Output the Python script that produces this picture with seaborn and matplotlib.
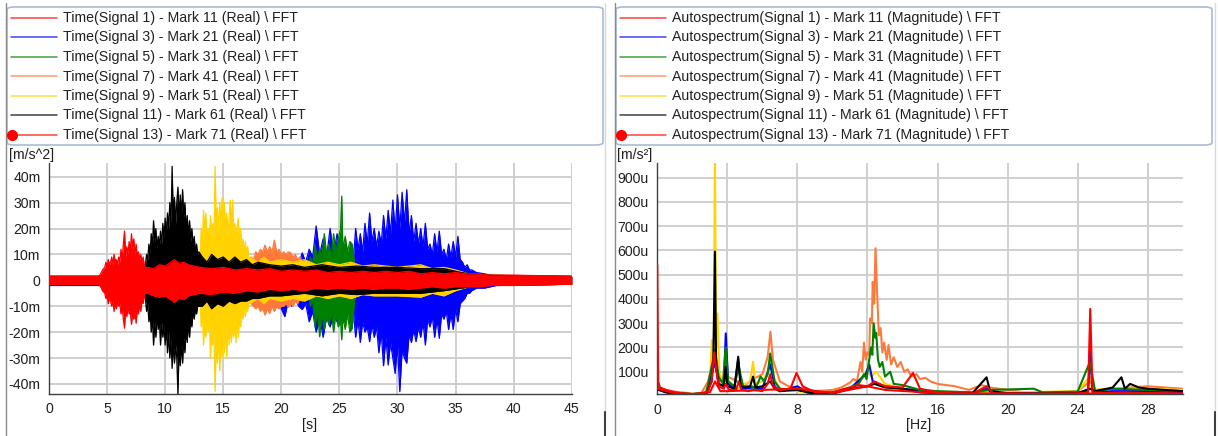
import numpy as np
import pandas as pd
import matplotlib
matplotlib.use("Agg")
import matplotlib.pyplot as plt
import seaborn as sns
from matplotlib.lines import Line2D
from matplotlib.patches import FancyBboxPatch
from matplotlib.ticker import FuncFormatter, FixedLocator

sns.set_style("white")
plt.rcParams['font.family'] = ['Liberation Sans', 'DejaVu Sans']

# ---------------- legend labels & colours ----------------
signals = ["Signal 1", "Signal 3", "Signal 5", "Signal 7", "Signal 9", "Signal 11", "Signal 13"]
marks = ["Mark 11", "Mark 21", "Mark 31", "Mark 41", "Mark 51", "Mark 61", "Mark 71"]
colors = ["#FF0000", "#0000FF", "#008000", "#FF7A3A", "#FFD200", "#000000", "#FF0000"]

# ---------------- time data: envelopes (upper / lower), milli m/s^2 ----------------
T1 = [0, 4.3, 5, 6, 7, 8, 8.5, 9, 9.5, 10, 10.5, 10.8, 11.2, 11.6, 12, 12.5,
      13, 14, 15, 16, 17, 18, 19, 20, 21, 22, 23, 24, 25, 26, 27, 28, 29, 30, 31, 32, 33, 34, 35, 36, 37, 38,
      40, 42, 45]
U1 = [1.5, 1.5, 3, 4, 4, 4.5, 5, 4.5, 6, 5.5, 7, 8, 6.5, 7, 6, 5.5,
      5, 4.5, 5, 4, 4.5, 4, 4.5, 3.5, 4, 3.5, 4, 3, 3.5, 3, 3.5, 3, 3.5, 3, 3.5, 2.5, 3, 2.5, 3, 2.5, 2.5, 2,
      2, 1.8, 1.5]
L1 = [-1.5, -1.5, -3, -4, -4, -5, -5, -6, -6.5, -6, -7.5, -8.5, -7, -7.5, -6, -5.5,
      -5, -5.5, -4.5, -5, -4, -4.5, -3.5, -4, -3.5, -4, -3, -3.5, -3, -3.5, -3, -3.5, -3, -3, -3.5, -3, -2.5, -3,
      -2.5, -2.5, -2.5, -2, -2, -1.8, -1.5]

T3 = [0, 4.5, 5,
      17.3, 17.6, 17.9, 18.2, 18.5, 18.8, 19.1, 19.4, 19.7, 20.0, 20.3, 20.6, 20.9, 21.2, 21.5, 21.8, 22.1, 22.4,
      22.7, 23.0, 23.3, 23.6, 23.9, 24.2, 24.5, 24.8, 25.1, 25.4, 25.7, 26.0,
      26.2, 26.4, 26.6, 26.8, 27.0, 27.2, 27.4, 27.6, 27.8, 28.0, 28.2, 28.4, 28.6, 28.8, 29.0, 29.2, 29.4, 29.6,
      29.8, 30.0, 30.2, 30.4, 30.6, 30.8, 31.0, 31.2, 31.4, 31.6, 31.8, 32.0, 32.2, 32.4, 32.6, 32.8, 33.0, 33.2,
      33.4, 33.6, 33.8, 34.0, 34.2, 34.4, 34.6, 34.8, 35.0, 35.2, 35.4, 35.6, 35.8, 36.0, 36.2, 36.4,
      36.8, 37.5, 38.5, 45]
U3 = [1.5, 1.5, 1.5,
      4, 7, 5, 10, 6, 8, 5, 9, 6, 8, 5, 10, 6, 9, 6, 10.6, 7, 12,
      9, 21, 10, 16, 9, 20, 10, 18, 9, 14, 8, 12,
      8, 20, 12, 18, 11, 22, 14, 26, 15, 20, 13, 19, 14, 25, 16, 27, 18, 31,
      19, 33, 20, 34, 22, 35, 18, 25, 15, 22, 14, 20, 13, 22, 12, 14, 10, 18,
      11, 19, 10, 12, 8, 14, 9, 15, 9, 17, 8, 7, 5, 6, 4, 4,
      3, 2.5, 1.5, 1.5]
L3 = [-2, -2, -1.5,
      -4, -7, -8, -11, -7, -10, -7, -9, -8, -11, -14, -8, -10, -7, -10, -11.3, -9, -16,
      -12, -20, -14, -22, -14, -18, -13, -16, -12, -16, -11, -14,
      -12, -22, -15, -24, -16, -20, -18, -23.7, -17, -22, -18, -28, -20, -33, -22, -32.7, -24, -30,
      -36, -25, -43, -27, -30, -32, -21, -24, -19, -23.7, -18, -22, -16, -25, -15, -18, -14, -22,
      -15, -22.4, -13, -15, -12, -19, -13, -19, -11, -16, -9, -8, -7, -5, -5, -4,
      -3, -3, -2, -1.5]

T5 = [0, 4.5, 22.3, 22.5, 22.7, 22.9, 23.1, 23.3, 23.5, 23.7, 23.9, 24.1, 24.3, 24.5, 24.7, 24.9, 25.1, 25.2,
      25.3, 25.5, 25.7, 25.9, 26.1, 26.3, 26.5, 28, 36, 45]
U5 = [1.5, 1.5, 3, 9, 6, 13.6, 8, 12, 9, 18, 10, 14, 9, 18, 11, 16, 20, 32.5,
      12, 17, 11, 15, 14, 7, 4, 3.5, 2, 1.5]
L5 = [-1.5, -1.5, -3, -10, -8, -18, -12, -21.8, -13, -19, -14, -17.3, -12, -20, -13, -18, -16, -23,
      -14, -19, -13, -20, -18.6, -8, -4, -3.5, -2, -1.5]

T7 = [0, 4.5, 17.2, 17.4, 17.6, 17.8, 18.0, 18.2, 18.4, 18.6, 18.8, 19.0, 19.2, 19.4, 19.6, 19.8, 20.0, 20.2,
      20.4, 20.6, 20.8, 21.0, 21.2, 21.4, 21.6, 21.8, 22.0, 22.2, 22.4, 22.6, 25, 30, 36, 45]
U7 = [1.5, 1.5, 3, 9, 8, 11, 10, 12, 11, 13.6, 11, 13, 11, 15.5, 11, 12, 10, 11,
      10, 11, 10.7, 9, 10, 8, 9, 7, 7, 6, 6, 4, 4, 3.5, 2, 1.5]
L7 = [-1.5, -1.5, -3, -9, -10, -11, -10, -12, -11, -13.4, -11, -12.8, -10, -12, -10, -11, -10, -10,
      -9, -10.5, -9, -10, -8, -9, -7, -8, -6, -6, -5, -4, -4, -3.5, -2, -1.5]

T9 = [0, 4.5, 12.8,
      13.0, 13.1, 13.2, 13.3, 13.4, 13.5, 13.6, 13.7, 13.8, 13.9, 14.0, 14.1, 14.2, 14.3, 14.4, 14.5, 14.6, 14.7,
      14.8, 14.9, 15.0, 15.1, 15.2, 15.3, 15.4, 15.5, 15.6, 15.7, 15.8, 15.9, 16.0, 16.1, 16.2, 16.3, 16.4, 16.5,
      16.6, 16.7, 16.8, 16.9, 17.0, 17.1, 17.2, 17.3,
      17.6, 18, 18.5, 19, 20, 21, 22, 23, 24, 25, 26, 27, 28, 30, 32, 33, 34, 35, 36.5, 45]
U9 = [1.5, 1.5, 2,
      6, 20, 14, 27, 18, 26, 15, 20, 14, 25, 17, 22, 16, 44, 20, 28, 19, 30,
      21, 32, 22, 30, 18, 26, 17, 24, 31, 20, 31, 18, 22, 15, 21, 24, 14, 20,
      12, 16, 11, 15, 10, 13, 8, 9,
      8, 7, 9, 7, 8, 7, 8, 6, 7, 6, 7, 5.5, 6, 5, 6, 4.5, 5, 4, 2, 1.5]
L9 = [-1.5, -1.5, -2,
      -6, -18, -12, -25, -16, -22, -15, -20, -14, -30, -18, -25, -20, -43, -22, -32, -20, -35,
      -22, -30, -20, -28, -18, -30, -17, -25, -18, -24, -16, -22, -15, -24, -14, -22, -15, -18,
      -12, -15, -11, -14, -10, -12, -8, -9,
      -8, -7, -9, -7, -8, -7, -8, -6, -7, -6, -7, -5.5, -6, -6, -6.5, -5, -6, -4, -2, -1.5]

T11 = [0, 4.5, 8.1,
       8.3, 8.4, 8.5, 8.6, 8.7, 8.8, 8.9, 9.0, 9.1, 9.2, 9.3, 9.4, 9.5, 9.6, 9.7, 9.8, 9.9, 10.0, 10.1, 10.2,
       10.3, 10.4, 10.5, 10.6, 10.7, 10.8, 10.9, 11.0, 11.1, 11.2, 11.3, 11.4, 11.5, 11.6, 11.7, 11.8, 11.9,
       12.0, 12.1, 12.2, 12.3, 12.4, 12.5, 12.6, 12.7, 12.8, 12.9,
       13.2, 13.6, 14.0, 14.5, 15.0, 15.5, 16.0, 16.5, 17.0, 17.5, 18, 19, 20, 21, 22, 23.5, 25, 26.5, 28, 30,
       32, 34, 35.5, 37, 45]
U11 = [1.5, 1.5, 2,
       6, 10, 8, 14, 10, 18, 13, 23, 15, 20, 12, 17, 13, 19, 14, 22, 16, 24, 18, 26,
       20, 30, 22, 44, 24, 32, 22, 30, 36, 24, 33, 25, 35, 24, 30, 20, 25,
       17, 23, 15, 20, 13, 17, 11, 14, 10, 11,
       9, 7, 10, 8, 9, 7, 9, 7, 8, 6, 7, 6, 5.5, 6, 5, 6, 5, 5.5, 5, 5,
       4.5, 4.5, 3, 2, 1.5]
L11 = [-1.5, -1.5, -2,
       -7, -12, -9, -16, -12, -20, -14, -25, -16, -22, -14, -19, -15, -25, -16, -22, -17, -25, -18, -28,
       -20, -30, -22, -34, -24, -32, -25, -30, -44, -26, -33, -24, -32, -22, -28, -19, -24,
       -16, -22, -14, -18, -12, -15, -11, -13, -10, -10,
       -10, -8, -11, -9, -10, -8, -9, -8, -8, -7, -7, -6, -6, -5.5, -5, -6, -5, -5.5, -5, -5,
       -5, -4, -3, -2, -1.5]

T13 = [0, 4.3, 4.5, 4.6,
       4.8, 4.9, 5.0, 5.1, 5.2, 5.3, 5.4, 5.5, 5.6, 5.7, 5.8, 5.9, 6.0, 6.1, 6.2, 6.3, 6.4, 6.5, 6.6, 6.7,
       6.8, 6.9, 7.0, 7.1, 7.2, 7.3, 7.4, 7.5, 7.6, 7.7, 7.8, 7.9, 8.0, 8.1, 8.2,
       8.4, 9, 45]
U13 = [1.5, 1.5, 3, 4,
       5, 7, 5, 8, 6, 7, 9, 6, 10, 7, 8, 6, 9, 7, 12, 8, 14, 19, 9, 13,
       10, 15, 11, 18, 12, 16, 10, 14, 9, 11, 8, 10, 7, 9, 6,
       3, 1.5, 1.5]
L13 = [-1.5, -1.5, -3, -4,
       -5, -7, -6, -9, -7, -8, -10, -8, -12, -9, -11, -8, -10, -9, -13, -10, -15, -18.5, -11, -14,
       -10, -13, -12, -17, -13, -15, -12, -16.6, -11, -13, -9, -12, -8, -9, -6,
       -3, -1.5, -1.5]

# ---------------- spectrum data (micro m/s^2) ----------------
F1 = [0, 0.5, 1, 2, 3, 3.3, 3.6, 4, 6, 8, 10, 12, 13, 16, 20, 24, 28, 30]
V1 = [30, 20, 12, 8, 15, 60, 20, 20, 25, 30, 12, 40, 25, 12, 10, 10, 12, 10]

F3 = [0, 0.1, 0.5, 1, 2, 2.8, 3.1, 3.3, 3.5, 3.8, 3.91, 4.05, 4.4, 4.62, 4.8, 5.5, 6, 6.45, 6.7, 7, 8, 8.5, 9, 10, 11,
      11.9, 12.1, 12.3, 12.6, 13, 14, 16, 18, 18.8, 19.2, 20, 24, 24.6, 24.72, 24.85, 26, 28, 30]
V3 = [30, 25, 15, 10, 7, 12, 90, 140, 50, 40, 258, 50, 30, 150, 30, 35, 30, 130, 40, 20, 40, 15, 10, 10, 30,
      90, 130, 60, 50, 40, 30, 15, 12, 30, 10, 10, 12, 20, 183, 15, 20, 20, 15]

F5 = [0, 0.1, 0.5, 1, 2, 2.8, 3.1, 3.3, 3.5, 3.75, 3.9, 4.05, 4.4, 4.65, 4.9, 5.4, 5.6, 5.9, 6.1, 6.3,
      6.45, 6.7, 7, 8, 9, 10, 11, 11.5, 11.8, 11.95, 12.1, 12.2, 12.28, 12.35, 12.45, 12.5, 12.6, 12.7, 12.85, 13,
      13.3, 13.5, 14, 15, 16, 18, 19, 21.5, 22, 24, 24.7, 25, 26, 28, 30]
V5 = [40, 30, 20, 14, 8, 15, 120, 190, 80, 50, 200, 60, 40, 120, 40, 40, 30, 80, 60, 90,
      175, 60, 30, 25, 10, 15, 35, 50, 90, 70, 150, 200, 170, 300, 240, 260, 150, 120, 140, 80,
      100, 50, 45, 25, 20, 15, 25, 30, 15, 18, 140, 20, 30, 25, 20]

F7 = [0, 0.1, 0.5, 1, 2, 2.5, 2.9, 3.2, 3.4, 3.6, 4, 4.6, 5, 5.5, 6, 6.3, 6.46, 6.6, 7, 7.5,
      8, 8.5, 9, 10, 10.5, 11, 11.2, 11.4, 11.6, 11.7, 11.8, 11.9, 12.0, 12.1, 12.15,
      12.25, 12.3, 12.38, 12.46, 12.55, 12.65, 12.75, 12.85, 12.95, 13.1, 13.2, 13.35, 13.5, 13.7, 13.9, 14.1,
      14.3, 14.5, 14.8, 15, 15.3, 15.6, 16, 17, 17.8, 18.5, 19, 20, 21, 22, 23, 24, 24.7, 25, 26, 27, 28, 29, 30]
V7 = [40, 35, 25, 18, 10, 10, 60, 150, 100, 60, 80, 60, 45, 70, 90, 160, 265, 150, 60, 40,
      35, 30, 20, 25, 35, 55, 70, 60, 140, 100, 220, 150, 180, 170, 320,
      300, 470, 380, 609, 430, 250, 280, 180, 220, 150, 210, 130, 160, 120, 140, 100,
      110, 80, 90, 70, 75, 60, 50, 40, 25, 45, 35, 25, 15, 12, 12, 20, 60, 25, 30, 35, 40, 35, 30]

F9 = [0, 0.1, 0.5, 1, 2, 2.7, 3.0, 3.12, 3.22, 3.29, 3.36, 3.43, 3.55, 3.8, 3.9, 4.1, 4.6, 5.0, 5.3, 5.47, 5.6, 6.0, 6.3,
      6.45, 6.6, 7, 8, 9, 10, 11, 11.7, 12.0, 12.2, 12.5, 13, 14, 16, 18, 20, 24, 24.7, 25, 26, 28, 30]
V9 = [35, 30, 18, 12, 8, 12, 60, 230, 120, 1000, 200, 340, 90, 60, 100, 40, 30, 50, 60, 141, 50, 60, 100,
      150, 80, 30, 20, 12, 15, 30, 70, 110, 80, 100, 50, 30, 18, 15, 15, 20, 80, 25, 30, 30, 25]

F11 = [0, 0.1, 0.5, 1, 2, 2.8, 3.1, 3.2, 3.29, 3.36, 3.5, 3.8, 3.9, 4.0, 4.4, 4.62, 4.75, 5.0, 5.3, 5.47, 5.6, 6.0, 6.45,
       6.7, 7, 8, 9, 10, 11, 12, 12.4, 13, 14, 15, 16, 18, 18.8, 19, 20, 22, 24, 24.7, 25, 26, 26.5, 26.7, 27, 27.5, 28, 30]
V11 = [30, 25, 15, 10, 7, 10, 60, 150, 595, 120, 50, 40, 120, 40, 30, 162, 40, 35, 40, 80, 35, 40, 60,
       30, 20, 25, 10, 10, 30, 40, 50, 35, 30, 15, 12, 12, 77, 20, 12, 10, 12, 30, 20, 35, 77, 30, 50, 35, 30, 20]

F13 = [0, 0.05, 0.15, 0.5, 1, 1.5, 2, 2.5, 2.9, 3.1, 3.25, 3.35, 3.5, 3.8, 3.9, 4.1, 4.5, 4.65, 4.8, 5.2, 5.5, 6, 6.3,
       6.45, 6.6, 7, 7.6, 7.95, 8.3, 9, 10, 10.5, 11, 11.5, 12, 12.4, 13, 14, 14.6, 15, 16, 17, 18, 18.8, 19.2, 20,
       22, 24, 24.6, 24.72, 24.85, 25.5, 26.5, 28, 30]
V13 = [540, 60, 35, 25, 15, 10, 8, 8, 20, 60, 180, 120, 40, 30, 50, 25, 25, 60, 25, 20, 25, 20, 50,
       90, 40, 25, 30, 95, 40, 15, 15, 25, 35, 45, 40, 60, 40, 35, 95, 30, 15, 10, 10, 40, 10, 10,
       8, 10, 15, 359, 15, 12, 15, 12, 10]

time_sets = {"Signal 1": (T1, U1, L1), "Signal 3": (T3, U3, L3), "Signal 5": (T5, U5, L5),
             "Signal 7": (T7, U7, L7), "Signal 9": (T9, U9, L9), "Signal 11": (T11, U11, L11),
             "Signal 13": (T13, U13, L13)}
spec_sets = {"Signal 1": (F1, V1), "Signal 3": (F3, V3), "Signal 5": (F5, V5), "Signal 7": (F7, V7),
             "Signal 9": (F9, V9), "Signal 11": (F11, V11), "Signal 13": (F13, V13)}
for k, (t, u, l) in time_sets.items():
    assert len(t) == len(u) == len(l), (k, len(t), len(u), len(l))
for k, (f, v) in spec_sets.items():
    assert len(f) == len(v), (k, len(f), len(v))
color_of = dict(zip(signals, colors))

time_order = ["Signal 3", "Signal 5", "Signal 7", "Signal 9", "Signal 11", "Signal 1", "Signal 13"]
spec_order = ["Signal 7", "Signal 9", "Signal 3", "Signal 5", "Signal 11", "Signal 1", "Signal 13"]

W, H = 1218, 436
fig = plt.figure(figsize=(W / 100, H / 100), dpi=100)

def fx(px):
    return px / W

def fy(py):
    return 1 - py / H

GRID = "#cfcfcf"
AXC = "#404040"
FS = 10.15

def style_axes(ax):
    for s in ["top", "right"]:
        ax.spines[s].set_visible(False)
    for s in ["left", "bottom"]:
        ax.spines[s].set_color(AXC)
        ax.spines[s].set_linewidth(1.0)
    ax.grid(True, color=GRID, linewidth=1.4)
    ax.set_axisbelow(True)
    ax.tick_params(axis="both", direction="out", length=4, width=1, color=AXC,
                   labelsize=FS, labelcolor="#202020", pad=2)

# ---------------- left: time ----------------
axL = fig.add_axes([fx(49), fy(394), fx(571.7) - fx(49), fy(163) - fy(394)])
for z, name in enumerate(time_order):
    t, u, l = time_sets[name]
    df = pd.DataFrame({"t": t, "u": u, "l": l})
    axL.fill_between(df["t"], df["l"], df["u"], color=color_of[name], linewidth=0, zorder=2 + z)
    sns.lineplot(data=df, x="t", y="u", ax=axL, color=color_of[name], linewidth=0.9,
                 estimator=None, sort=False, zorder=2 + z)
    sns.lineplot(data=df, x="t", y="l", ax=axL, color=color_of[name], linewidth=0.9,
                 estimator=None, sort=False, zorder=2 + z)
axL.set_xlim(0, 45)
axL.set_ylim(-43.9, 45.3)
axL.xaxis.set_major_locator(FixedLocator(list(range(0, 46, 5))))
axL.yaxis.set_major_locator(FixedLocator(list(range(-40, 41, 10))))
axL.yaxis.set_major_formatter(FuncFormatter(lambda v, p: "0" if abs(v) < 1e-9 else f"{int(v)}m"))
axL.set_xlabel("")
axL.set_ylabel("")
style_axes(axL)

# ---------------- right: spectrum ----------------
axR = fig.add_axes([fx(657.3), fy(394.3), fx(1182.7) - fx(657.3), fy(163.3) - fy(394.3)])
for z, name in enumerate(spec_order):
    f, v = spec_sets[name]
    df = pd.DataFrame({"f": f, "v": v})
    sns.lineplot(data=df, x="f", y="v", ax=axR, color=color_of[name], linewidth=1.5,
                 estimator=None, sort=False, zorder=2 + z)
axR.set_xlim(0, 30)
axR.set_ylim(7, 959)
axR.xaxis.set_major_locator(FixedLocator(list(range(0, 29, 4))))
axR.yaxis.set_major_locator(FixedLocator(list(range(100, 901, 100))))
axR.yaxis.set_major_formatter(FuncFormatter(lambda v, p: f"{int(v)}u"))
axR.set_xlabel("")
axR.set_ylabel("")
style_axes(axR)

# ---------------- unit labels ----------------
fig.text(fx(9), fy(155), "[m/s^2]", fontsize=FS, va="center", ha="left", color="#202020")
fig.text(fx(617), fy(155), "[m/s²]", fontsize=FS, va="center", ha="left", color="#202020")
fig.text(fx(310), fy(425), "[s]", fontsize=FS, va="center", ha="center", color="#202020")
fig.text(fx(919), fy(425), "[Hz]", fontsize=FS, va="center", ha="center", color="#202020")

# ---------------- panel borders ----------------
for x0, x1 in [(6, 605), (615, 1215)]:
    fig.add_artist(Line2D([fx(x0), fx(x0)], [fy(3), fy(436)], color="#8a8a8a", lw=1))
    fig.add_artist(Line2D([fx(x1), fx(x1)], [fy(3), fy(412)], color="#d8d8d8", lw=1))
    fig.add_artist(Line2D([fx(x1), fx(x1)], [fy(412), fy(436)], color="#404040", lw=1.5))

# ---------------- legends ----------------
def draw_legend(x0, x1, fmt):
    box = FancyBboxPatch((fx(x0), fy(145)), fx(x1) - fx(x0), fy(7) - fy(145),
                         boxstyle="round,pad=0,rounding_size=0.006", transform=fig.transFigure,
                         facecolor="white", edgecolor="#a9bcd4", linewidth=1.2)
    fig.add_artist(box)
    for i, (sig, mk, c) in enumerate(zip(signals, marks, colors)):
        y = 18 + i * 19.5
        fig.add_artist(Line2D([fx(x0 + 4), fx(x0 + 50)], [fy(y), fy(y)], color=c, lw=1.1, alpha=0.75))
        if i == len(signals) - 1:
            fig.add_artist(Line2D([fx(x0 + 5)], [fy(y)], color=c, marker="o", markersize=7, lw=0))
        fig.text(fx(x0 + 56), fy(y), fmt.format(sig=sig, mk=mk), fontsize=FS, va="center",
                 ha="left", color="#202020")

draw_legend(7, 603, "Time({sig}) - {mk} (Real) \\ FFT")
draw_legend(616, 1212, "Autospectrum({sig}) - {mk} (Magnitude) \\ FFT")

fig.savefig("out.png", dpi=100)
